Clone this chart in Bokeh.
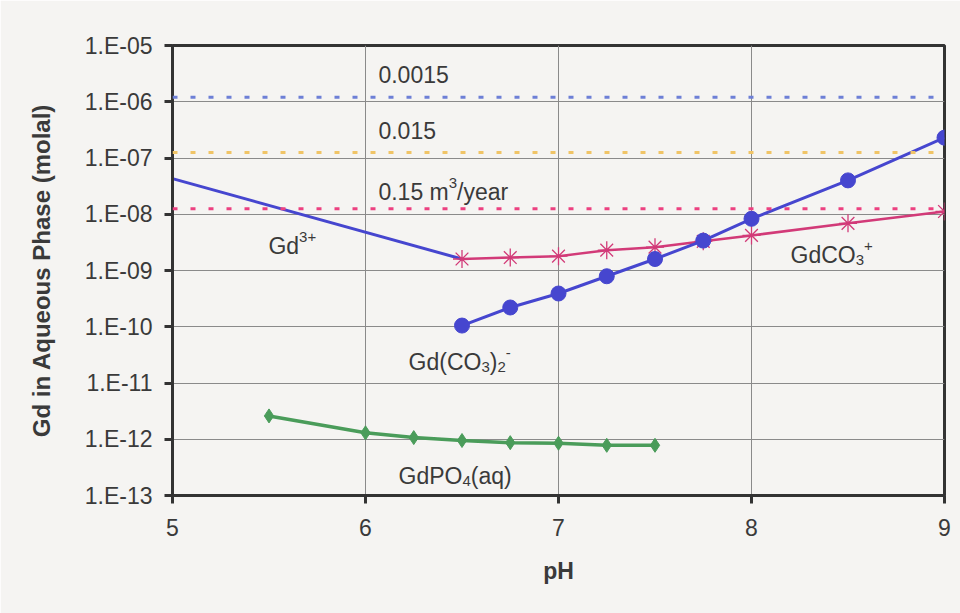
from bokeh.plotting import figure
from bokeh.models import Label, Range1d, FixedTicker, Span
from bokeh.embed import file_html
from bokeh.resources import INLINE

# ---------------- data ----------------
ph_gd3 = [5.0, 6.5]
gd3 = [4.3e-8, 1.6e-9]

ph_co3 = [6.5, 6.75, 7.0, 7.25, 7.5, 7.75, 8.0, 8.5, 9.0]
gdco3 = [1.6e-9, 1.7e-9, 1.8e-9, 2.3e-9, 2.6e-9, 3.3e-9, 4.2e-9, 6.9e-9, 1.12e-8]
gdco3_2 = [1.05e-10, 2.2e-10, 3.9e-10, 7.9e-10, 1.6e-9, 3.4e-9, 8.3e-9, 4.0e-8, 2.3e-7]

ph_po4 = [5.5, 6.0, 6.25, 6.5, 6.75, 7.0, 7.25, 7.5]
gdpo4 = [2.6e-12, 1.3e-12, 1.07e-12, 0.95e-12, 0.87e-12, 0.85e-12, 0.78e-12, 0.78e-12]

flow_labels = ["0.0015", "0.015", "0.15"]
flow_limits = [1.2e-6, 1.25e-7, 1.25e-8]

x_ticks = [5, 6, 7, 8, 9]
y_ticks = [1e-13, 1e-12, 1e-11, 1e-10, 1e-9, 1e-8, 1e-7, 1e-6, 1e-5]
y_tick_labels = ["1.E-13", "1.E-12", "1.E-11", "1.E-10", "1.E-09",
                 "1.E-08", "1.E-07", "1.E-06", "1.E-05"]

# ---------------- style ----------------
FONT = "Liberation Sans"
TXT = "#3a3a3a"
BG = "#f5f4f2"
BLUE = "#4646cf"
PINK = "#d23a78"
GREEN = "#4a9c5a"
FLOW_COLORS = ["#6d7fd6", "#f0c466", "#ec4080"]

p = figure(width=960, height=613, output_backend="svg", toolbar_location=None,
           y_axis_type="log",
           x_range=Range1d(5, 9), y_range=Range1d(1e-13, 1e-5),
           min_border_left=172, min_border_right=16,
           min_border_top=45, min_border_bottom=118)
p.background_fill_color = BG
p.border_fill_color = BG
p.outline_line_color = "#333333"
p.outline_line_width = 3

# axes
for ax in (p.xaxis[0], p.yaxis[0]):
    ax.axis_line_color = "#333333"
    ax.axis_line_width = 3
    ax.major_tick_line_color = "#333333"
    ax.major_tick_line_width = 3
    ax.major_tick_in = 0
    ax.major_tick_out = 8
    ax.minor_tick_line_color = None
    ax.major_label_text_font = FONT
    ax.major_label_text_font_size = "23px"
    ax.major_label_text_color = TXT
    ax.axis_label_text_font = FONT
    ax.axis_label_text_font_style = "bold"
    ax.axis_label_text_color = TXT

p.xaxis.ticker = FixedTicker(ticks=x_ticks)
p.yaxis.ticker = FixedTicker(ticks=y_ticks)
p.yaxis.major_label_overrides = {t: l for t, l in zip(y_ticks, y_tick_labels)}
p.xaxis.major_label_standoff = 15
p.yaxis.major_label_standoff = 12
p.xaxis.axis_label = "pH"
p.xaxis.axis_label_text_font_size = "23px"
p.xaxis.axis_label_standoff = 19
p.yaxis.axis_label = "Gd in Aqueous Phase (molal)"
p.yaxis.axis_label_text_font_size = "24px"
p.yaxis.axis_label_standoff = 27

p.xgrid.grid_line_color = "#8a8a8a"
p.xgrid.grid_line_width = 1
p.ygrid.grid_line_color = "#8a8a8a"
p.ygrid.grid_line_width = 1

# flow-rate limit lines
for lim, col in zip(flow_limits, FLOW_COLORS):
    p.add_layout(Span(location=lim, dimension="width", line_color=col,
                      line_width=3, line_dash="5 13"))

# series
p.line(ph_gd3, gd3, line_color=BLUE, line_width=3)

p.line(ph_co3, gdco3, line_color=PINK, line_width=2.5)
p.scatter(ph_co3, gdco3, marker="asterisk", size=18, line_color=PINK, line_width=1.3)

p.line(ph_co3, gdco3_2, line_color=BLUE, line_width=3)
p.scatter(ph_co3, gdco3_2, marker="circle", size=15, fill_color=BLUE, line_color=BLUE)

p.line(ph_po4, gdpo4, line_color=GREEN, line_width=3.5)
p.scatter(ph_po4, gdpo4, marker="diamond", size=14, fill_color=GREEN, line_color=GREEN)

# ---------------- rich text labels ----------------
W = {'G': .778, 'd': .556, 'C': .722, 'O': .778, 'P': .667, '(': .333, ')': .333,
     'a': .556, 'q': .556, '+': .584, '-': .333, '.': .278, 'm': .833, '/': .278,
     'y': .5, 'e': .556, 'r': .333, ' ': .278}
for ch in "0123456789":
    W[ch] = .556

MAIN = 23
SMALL = 15


def width(s, size):
    return sum(W.get(c, .556) for c in s) * size


def rich(x, y, parts):
    off = 0.0
    for txt, kind in parts:
        size = MAIN if kind == "n" else SMALL
        dy = {"n": 0, "sup": 9, "sub": -5}[kind]
        p.add_layout(Label(x=x, y=y, x_offset=off, y_offset=dy, text=txt,
                           text_font=FONT, text_font_size=f"{size}px",
                           text_color=TXT, text_baseline="alphabetic",
                           text_align="left"))
        off += width(txt, size)


rich(6.067, 10 ** -5.516, [(flow_labels[0], "n")])
rich(6.067, 10 ** -6.511, [(flow_labels[1], "n")])
rich(6.067, 10 ** -7.613, [(flow_labels[2] + " m", "n"), ("3", "sup"), ("/year", "n")])
rich(5.497, 10 ** -8.556, [("Gd", "n"), ("3+", "sup")])
rich(8.202, 10 ** -8.733, [("GdCO", "n"), ("3", "sub"), ("+", "sup")])
rich(6.223, 10 ** -10.618, [("Gd(CO", "n"), ("3", "sub"), (")", "n"), ("2", "sub"), ("-", "sup")])
rich(6.171, 10 ** -12.662, [("GdPO", "n"), ("4", "sub"), ("(aq)", "n")])

open("out.html", "w").write(file_html(p, INLINE))
